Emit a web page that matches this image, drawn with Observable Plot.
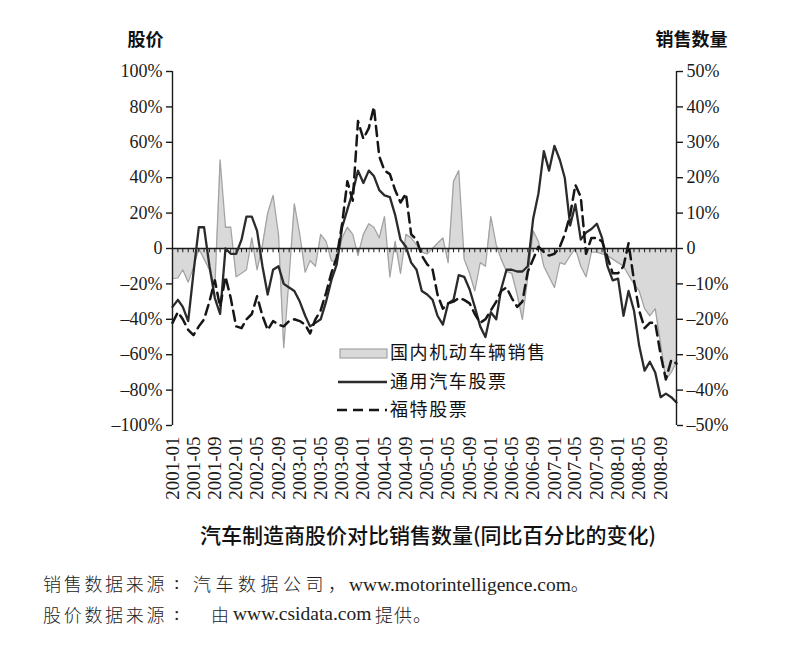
<!DOCTYPE html>
<html>
<head>
<meta charset="utf-8">
<script src="https://cdn.jsdelivr.net/npm/d3@7"></script>
<script src="https://cdn.jsdelivr.net/npm/@observablehq/plot@0.6"></script>
<style>
  body { margin: 0; background: #fff; }
  #wrap { position: relative; width: 811px; height: 647px; overflow: hidden; background: #fff; }
  #chart { position: absolute; left: 0; top: 0; }
  #legend { position: absolute; left: 330px; top: 335px; }
  #caption { position: absolute; left: 0; top: 519px; width: 856px; text-align: center; line-height: 30px;
    font-family: "Noto Sans CJK SC", sans-serif; font-size: 21px; font-weight: 500; color: #111; }
  .s { position: absolute; line-height: 26px; white-space: nowrap; color: #222; }
  .cj { font-family: "Noto Sans CJK SC", sans-serif; font-size: 18px; font-weight: 300; }
  .la { font-family: "Liberation Serif", serif; font-size: 19.5px; }
</style>
</head>
<body>
<div id="wrap">
  <div id="chart"></div>
  <svg id="legend" width="240" height="90"></svg>
  <div id="caption">汽车制造商股价对比销售数量(同比百分比的变化)</div>
  <span class="s cj" style="left:43px;top:570px;letter-spacing:2.7px">销售数据来源</span>
  <span class="s la" style="left:174px;top:570px">:</span>
  <span class="s cj" style="left:193px;top:570px;letter-spacing:4.5px">汽车数据公司，</span>
  <span class="s la" style="left:349px;top:570px">www.motorintelligence.com<span class="cj">。</span></span>
  <span class="s cj" style="left:43px;top:601px;letter-spacing:2.7px">股价数据来源</span>
  <span class="s la" style="left:174px;top:601px">:</span>
  <span class="s cj" style="left:211px;top:601px">由</span>
  <span class="s la" style="left:233px;top:601px">www.csidata.com</span>
  <span class="s cj" style="left:375px;top:601px;letter-spacing:1px">提供。</span>
</div>
<script>
// Monthly categories 2001-01 .. 2008-12
const months = d3.utcMonth.range(new Date(Date.UTC(2001, 0, 1)), new Date(Date.UTC(2009, 0, 1)));
const xTickMonths = d3.utcMonth.every(4).range(new Date(Date.UTC(2001, 0, 1)), new Date(Date.UTC(2008, 9, 1)));
const leftTicks = [-100, -80, -60, -40, -20, 0, 20, 40, 60, 80, 100];

// GM stock, y/y % change (left axis)
const gm = [
  -33, -29, -33, -41, -14, 12, 12, -10, -28, -37,
  0, -3, -3, 5, 18, 18, 10, -10, -26, -12,
  -10, -20, -22, -24, -30, -38, -44, -42, -40, -30,
  -18, -9, 12, 22, 32, 44, 37, 44, 41, 33,
  30, 29, 19, 5, 1, -8, -12, -24, -26, -29,
  -38, -43, -31, -29, -15, -16, -23, -33, -44, -50,
  -36, -40, -23, -12, -12, -13, -13, -10, 17, 31,
  55, 44, 58, 50, 40, 13, 25, 5, 9, 11,
  14, 6, -10, -18, -17, -38, -24, -35, -55, -69,
  -64, -70, -84, -82, -84, -87
];

// Ford stock, y/y % change (left axis)
const ford = [
  -42, -36, -40, -46, -49, -44, -40, -30, -18, -33,
  -16, -28, -44, -45, -40, -37, -27, -38, -46, -41,
  -43, -44, -41, -40, -41, -43, -48, -40, -35, -25,
  -14, -5, 14, 38, 27, 72, 62, 68, 80, 52,
  44, 42, 33, 26, 31, 8, 5, -4, -9, -12,
  -26, -34, -31, -30, -28, -29, -31, -37, -42, -40,
  -35, -30, -24, -22, -28, -33, -30, -13, -6, 1,
  -2, -4, -3, 1, 8, 19, 36, 29, -3, 6,
  6, 4, -5, -14, -14, -10, 3, -18, -35, -45,
  -42, -42, -60, -74, -63, -65
];

// Domestic motor vehicle sales, y/y % change (right axis)
const sales = [
  -8.5, -8.3, -6, -9.5, -5.3, 0, -3, -6, -11, 25,
  6, 6, -8, -7, -6, 3, -6, 1, 10, 15,
  4, -28, -8, 12.6, 4, -6.7, -3.4, -5, 4, 2,
  -3.4, -4, 3, 6, 4, -2, 4, 7, 6, 3,
  9, -8, 2, -7, 4, 3, 1, -1, -1.5, 0,
  1.5, 3, -4, 19, 22, -3, -7, -12, -4, -5,
  9, 1, -3, -6.5, -7, -13, -20, -8, 5, 2,
  -5, -8, -11, -4, -4.5, -2, 0, -5, -8, -1,
  -1, -1.5, -2, -3, -4, -5, -7.5, -10, -12, -17,
  -19, -17, -27, -37, -35, -32
];

const rows = months.map((d, i) => ({ date: d, gm: gm[i], ford: ford[i], sales: sales[i] }));
const pct = v => (v === 0 ? "0" : (v < 0 ? "\u2013" + (-v) : String(v)) + "%");
const salesToLeft = d => d.sales * 2; // right axis ±50% maps onto left ±100%

const chart = Plot.plot({
  width: 811,
  height: 510,
  marginLeft: 172,
  marginRight: 135,
  marginTop: 71,
  marginBottom: 85,
  style: { fontFamily: "Liberation Serif, serif", fontSize: "18px", color: "#1a1a1a", background: "transparent" },
  x: { type: "utc", domain: [months[0], months[months.length - 1]] },
  y: { domain: [-100, 100] },
  marks: [
    Plot.areaY(rows, { x: "date", y1: 0, y2: salesToLeft, fill: "#d9d9d9" }),
    Plot.lineY(rows, { x: "date", y: salesToLeft, stroke: "#a3a3a3", strokeWidth: 1.3 }),
    Plot.ruleY([0], { stroke: "#1a1a1a", strokeWidth: 1.6 }),
    Plot.ruleX(months, { x: d => d, y1: 0, y2: -2.4, stroke: "#1a1a1a", strokeWidth: 1 }),
    Plot.lineY(rows, { x: "date", y: "gm", stroke: "#2b2b2b", strokeWidth: 2.3 }),
    Plot.lineY(rows, { x: "date", y: "ford", stroke: "#161616", strokeWidth: 2.5, strokeDasharray: "10,6" }),
    Plot.ruleX([months[0]], { y1: -100, y2: 100, stroke: "#1a1a1a", strokeWidth: 1.4 }),
    Plot.ruleX([months[months.length - 1]], { y1: -100, y2: 100, stroke: "#1a1a1a", strokeWidth: 1.4 }),
    Plot.axisY({ anchor: "left", ticks: leftTicks, tickFormat: pct, tickSize: 6, tickPadding: 4, label: null, strokeWidth: 1.4 }),
    Plot.axisY({ anchor: "right", ticks: leftTicks, tickFormat: v => pct(v / 2), tickSize: 6, tickPadding: 4, label: null, strokeWidth: 1.4 }),
    Plot.axisX({ ticks: xTickMonths, tickFormat: d3.utcFormat("%Y-%m"), tickRotate: -90, tickSize: 0, tickPadding: 11, fontSize: 19, label: null }),
    Plot.text(["股价"], { frameAnchor: "top-left", textAnchor: "start", lineAnchor: "middle", dx: -45, dy: -31,
      fontFamily: "Noto Sans CJK SC", fontSize: 18, fontWeight: "bold", fill: "#111" }),
    Plot.text(["销售数量"], { frameAnchor: "top-right", textAnchor: "start", lineAnchor: "middle", dx: -21, dy: -31,
      fontFamily: "Noto Sans CJK SC", fontSize: 18, fontWeight: "bold", fill: "#111" })
  ]
});
document.getElementById("chart").appendChild(chart);

// Legend
const legendItems = ["国内机动车辆销售", "通用汽车股票", "福特股票"];
const lg = d3.select("#legend");
const rowY = [18, 47, 75];
lg.append("rect").attr("x", 10).attr("y", rowY[0] - 4).attr("width", 47).attr("height", 9)
  .attr("fill", "#d9d9d9").attr("stroke", "#a3a3a3").attr("stroke-width", 1.2);
lg.append("line").attr("x1", 8).attr("x2", 57).attr("y1", rowY[1]).attr("y2", rowY[1])
  .attr("stroke", "#2b2b2b").attr("stroke-width", 2.3);
lg.append("line").attr("x1", 7).attr("x2", 57).attr("y1", rowY[2]).attr("y2", rowY[2])
  .attr("stroke", "#161616").attr("stroke-width", 2.5).attr("stroke-dasharray", "10,6");
legendItems.forEach((t, i) => {
  lg.append("text").attr("x", 60).attr("y", rowY[i]).attr("dy", "0.36em")
    .attr("font-family", "Noto Sans CJK SC").attr("font-size", 18).attr("letter-spacing", 1.6)
    .attr("fill", "#111").text(t);
});
</script>
</body>
</html>
